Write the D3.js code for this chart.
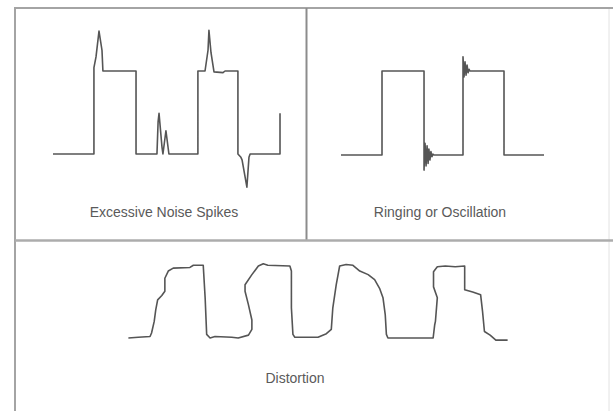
<!DOCTYPE html>
<html>
<head>
<meta charset="utf-8">
<script src="https://cdn.jsdelivr.net/npm/d3@7"></script>
<style>
  html, body { margin: 0; padding: 0; background: #fff; }
  svg { display: block; }
  .label { font-family: "Liberation Sans", Arial, sans-serif; font-size: 14px; fill: #5a5a5a; }
</style>
</head>
<body>
<div id="chart"></div>
<script>
// waveforms: [time (0-100), level (0 = low, 1 = high)]
const noiseSpikes = [
  [0, 0], [17.8, 0], [17.8, 1.04], [18.7, 1.17], [20, 1.48], [21.3, 1.25], [21.7, 1],
  [36.1, 1], [36.1, 0], [45.2, 0], [45.7, 0.39], [46.1, 0.49], [47.4, 0.08], [47.8, 0],
  [49.1, 0.28], [50.4, 0], [63, 0], [63, 1], [66.1, 1], [67.4, 1.25], [67.8, 1.49],
  [68.7, 1.22], [70, 0.99], [73.9, 0.98], [74.8, 1], [80.4, 1], [80.4, 0], [81.7, -0.04],
  [82.2, -0.07], [84.3, -0.40], [85.2, -0.04], [85.7, 0], [98.7, 0], [98.7, 0.49]
];

const ringing = [
  [0, 0], [20.2, 0], [20.2, 1], [40.9, 1], [40.9, -0.18], [41.4, 0.14], [41.9, -0.13],
  [42.4, 0.11], [42.9, -0.10], [43.3, 0.07], [43.8, -0.06], [44.3, 0.04], [44.8, -0.02],
  [45.3, 0.01], [45.8, 0], [60.1, 0], [60.1, 1.17], [60.6, 0.93], [61.1, 1.11],
  [61.6, 0.95], [62.1, 1.07], [62.6, 0.98], [63.1, 1.02], [63.5, 1], [80.3, 1],
  [80.3, 0], [100, 0]
];

const distortion = [
  [0.1, 0], [2.7, 0.01], [5.8, 0.02], [6.2, 0.07], [6.9, 0.23], [7.3, 0.39], [7.8, 0.53],
  [8.9, 0.59], [9.7, 0.65], [9.7, 0.83], [10.6, 0.93], [11.9, 0.97], [16.3, 0.98],
  [17.2, 1.01], [19.8, 1.01], [20.3, 0.56], [20.7, 0.05], [21.6, 0], [22.9, 0.02],
  [27.3, 0.01], [29, 0], [31.7, 0.04], [32.6, 0.12], [32.6, 0.25], [31.7, 0.46],
  [30.8, 0.65], [30.8, 0.74], [32.6, 0.88], [34.3, 1.0], [35.6, 1.03], [36.8, 1.01],
  [42.6, 1.0], [43, 0.93], [43, 0.42], [43.4, 0.05], [43.9, 0.01], [50, 0.01],
  [52.2, 0.06], [53.5, 0.12], [53.9, 0.42], [54.8, 0.74], [55.7, 1.0], [57.4, 1.02],
  [59.2, 1.01], [61, 0.93], [63.2, 0.88], [64.9, 0.81], [66.2, 0.69], [67.1, 0.56],
  [67.7, 0.32], [68, 0.05], [68.4, 0], [71.9, 0], [80.3, 0], [80.7, 0.18], [80.9, 0.23],
  [81.4, 0.56], [80.4, 0.71], [80.4, 0.92], [81.4, 0.99], [83.5, 1.0], [86.1, 0.99],
  [88.6, 1.0], [88.6, 0.67], [90.7, 0.64], [92.8, 0.6], [93.3, 0.37], [93.8, 0.09],
  [95.3, 0.04], [96.8, -0.03], [99.9, -0.03]
];

const labels = ['Excessive Noise Spikes', 'Ringing or Oscillation', 'Distortion'];

const W = 613, H = 411;

const svg = d3.select('#chart').append('svg')
  .attr('width', W)
  .attr('height', H);

svg.append('rect').attr('width', W).attr('height', H).attr('fill', '#fff');

// frame and dividers
const frame = svg.append('g').attr('fill', 'none');
frame.append('line').attr('x1', 609).attr('y1', 8).attr('x2', 609).attr('y2', H)
  .attr('stroke', '#e2e2e2').attr('stroke-width', 1);
frame.append('line').attr('x1', 14).attr('y1', 8).attr('x2', W).attr('y2', 8)
  .attr('stroke', '#a4a4a4').attr('stroke-width', 2);
frame.append('line').attr('x1', 15).attr('y1', 7).attr('x2', 15).attr('y2', H)
  .attr('stroke', '#a4a4a4').attr('stroke-width', 2);
frame.append('line').attr('x1', 306.5).attr('y1', 8).attr('x2', 306.5).attr('y2', 241)
  .attr('stroke', '#8c8c8c').attr('stroke-width', 2);
frame.append('line').attr('x1', 15).attr('y1', 240.5).attr('x2', W).attr('y2', 240.5)
  .attr('stroke', '#acacac').attr('stroke-width', 2.5);

// one panel per waveform
const panels = [
  { data: noiseSpikes, x: [53, 283], y: [154, 71], label: labels[0], lx: 164, ly: 217, size: 14 },
  { data: ringing, x: [341, 544], y: [155, 71], label: labels[1], lx: 440, ly: 217, size: 14 },
  { data: distortion, x: [128, 508], y: [338, 266], label: labels[2], lx: 295, ly: 383, size: 14 }
];

panels.forEach(p => {
  const x = d3.scaleLinear().domain([0, 100]).range(p.x);
  const y = d3.scaleLinear().domain([0, 1]).range(p.y);
  const line = d3.line().x(d => x(d[0])).y(d => y(d[1]));

  svg.append('path')
    .datum(p.data)
    .attr('d', line)
    .attr('fill', 'none')
    .attr('stroke', '#555')
    .attr('stroke-width', 1.6)
    .attr('stroke-linejoin', 'round');

  svg.append('text')
    .attr('class', 'label')
    .attr('x', p.lx)
    .attr('y', p.ly)
    .attr('text-anchor', 'middle')
    .style('font-size', p.size + 'px')
    .text(p.label);
});
</script>
</body>
</html>
